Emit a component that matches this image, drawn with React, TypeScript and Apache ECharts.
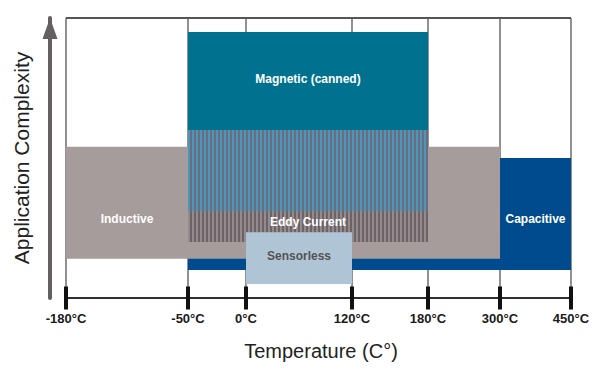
import React, { useEffect, useRef } from 'react';
import * as echarts from 'echarts';

// Schematic (non-linear) temperature axis
const TICK_TEMPS = [-180, -50, 0, 120, 180, 300, 450];
const TICK_LABELS = ['-180°C', '-50°C', '0°C', '120°C', '180°C', '300°C', '450°C'];
const TICK_SCALE = [0, 122, 180, 286, 362, 434, 505];

// Sensor technologies (drawn in this order)
const TECH_NAMES = ['Capacitive', 'Inductive', 'Magnetic (canned)', 'Eddy Current', 'Sensorless'];
const TEMP_FROM = [-50, -180, -50, -50, 0];
const TEMP_TO = [450, 300, 180, 180, 120];
const COMPLEXITY_LOW = [10, 14, 31, 20, 5];
const COMPLEXITY_HIGH = [50, 54, 95, 60, 23.5];

// Where each label sits
const LABEL_TEMP_FROM = [300, -180, -50, -50, 0];
const LABEL_TEMP_TO = [450, -50, 180, 180, 120];
const LABEL_LEVEL = [28.2, 28.2, 78.2, 27.3, 15];

const FONT = "'Liberation Sans', Arial, Helvetica, sans-serif";

const FILL: Record<string, string> = {
  Capacitive: '#004b8d',
  Inductive: '#a69c9c',
  'Magnetic (canned)': '#00728f',
  'Eddy Current': 'none',
  Sensorless: '#afc5d5',
};
const LABEL_COLOR: Record<string, string> = {
  Capacitive: '#ffffff',
  Inductive: '#ffffff',
  'Magnetic (canned)': '#ffffff',
  'Eddy Current': '#ffffff',
  Sensorless: '#575153',
};

function tempToPos(t: number): number {
  for (let i = 0; i < TICK_TEMPS.length - 1; i++) {
    const a = TICK_TEMPS[i];
    const b = TICK_TEMPS[i + 1];
    if (t >= a && t <= b) {
      return TICK_SCALE[i] + ((t - a) / (b - a)) * (TICK_SCALE[i + 1] - TICK_SCALE[i]);
    }
  }
  return t < TICK_TEMPS[0] ? TICK_SCALE[0] : TICK_SCALE[TICK_SCALE.length - 1];
}

export default function App() {
  const ref = useRef<HTMLDivElement>(null);
  useEffect(() => {
    document.body.style.margin = '0';
    const chart = echarts.init(ref.current!, null, { renderer: 'svg' });
    const magIdx = TECH_NAMES.indexOf('Magnetic (canned)');

    const blockData = TECH_NAMES.map((n, i) => [
      tempToPos(TEMP_FROM[i]),
      tempToPos(TEMP_TO[i]),
      COMPLEXITY_LOW[i],
      COMPLEXITY_HIGH[i],
    ]);

    const option: any = {
      animation: false,
      grid: { left: 66, right: 29, top: 18, bottom: 75 },
      xAxis: {
        type: 'value',
        min: 0,
        max: TICK_SCALE[TICK_SCALE.length - 1],
        name: 'Temperature (C°)',
        nameLocation: 'middle',
        nameGap: 43,
        nameTextStyle: { fontFamily: FONT, fontSize: 20, color: '#222', padding: [0, 0, 0, 5] },
        axisLine: { show: true, onZero: false, lineStyle: { color: '#222', width: 1.5 } },
        axisTick: { show: false },
        splitLine: { show: false },
        axisLabel: {
          customValues: TICK_SCALE,
          margin: 14,
          fontFamily: FONT,
          fontSize: 13,
          fontWeight: 'bold',
          color: '#1a1a1a',
          formatter: (v: number) => {
            const i = TICK_SCALE.indexOf(v);
            return i >= 0 ? TICK_LABELS[i] : '';
          },
        },
      },
      yAxis: {
        type: 'value',
        min: 0,
        max: 100,
        interval: 100,
        offset: 16,
        name: 'Application Complexity',
        nameLocation: 'middle',
        nameRotate: 90,
        nameGap: 18,
        nameTextStyle: { fontFamily: FONT, fontSize: 21, color: '#222' },
        axisLine: {
          show: true,
          onZero: false,
          symbol: ['none', 'triangle'],
          symbolSize: [15, 21],
          symbolOffset: [0, -10.5],
          lineStyle: { color: '#646062', width: 4 },
        },
        axisTick: { show: false },
        axisLabel: { show: false },
        splitLine: { show: true, lineStyle: { color: '#555', width: 2 } },
      },
      series: [
        {
          type: 'custom',
          name: 'grid',
          z: 1,
          clip: false,
          silent: true,
          data: TICK_SCALE.map((v) => [v, 0]),
          encode: { x: 0, y: 1 },
          renderItem: (params: any, api: any) => {
            const v = api.value(0);
            const top = api.coord([v, 100]);
            const bot = api.coord([v, 0]);
            return {
              type: 'group',
              children: [
                {
                  type: 'line',
                  shape: { x1: top[0], y1: top[1], x2: bot[0], y2: bot[1] },
                  style: { stroke: '#555', lineWidth: 1.3 },
                },
                {
                  type: 'rect',
                  shape: { x: bot[0] - 2, y: bot[1] - 11.5, width: 4, height: 23 },
                  style: { fill: '#111' },
                },
              ],
            };
          },
        },
        {
          type: 'custom',
          name: 'technologies',
          z: 2,
          clip: false,
          data: blockData,
          encode: { x: [0, 1], y: [2, 3] },
          renderItem: (params: any, api: any) => {
            const i = params.dataIndex;
            const name = TECH_NAMES[i];
            const p1 = api.coord([api.value(0), api.value(3)]);
            const p2 = api.coord([api.value(1), api.value(2)]);
            const x = p1[0];
            const y = p1[1];
            const w = p2[0] - p1[0];
            const h = p2[1] - p1[1];
            const lx = (api.coord([tempToPos(LABEL_TEMP_FROM[i]), 0])[0] + api.coord([tempToPos(LABEL_TEMP_TO[i]), 0])[0]) / 2;
            const ly = api.coord([0, LABEL_LEVEL[i]])[1];
            const children: any[] = [];
            if (name === 'Eddy Current') {
              const ySplit = Math.max(y, Math.min(p2[1], api.coord([0, COMPLEXITY_LOW[magIdx]])[1]));
              children.push({ type: 'rect', shape: { x, y, width: w, height: ySplit - y }, style: { fill: '#4b96ba' } });
              children.push({ type: 'rect', shape: { x, y: ySplit, width: w, height: p2[1] - ySplit }, style: { fill: '#958b8c' } });
              const period = 4;
              for (let sx = x + 2; sx < x + w; sx += period) {
                const sw = Math.min(2, x + w - sx);
                children.push({ type: 'rect', shape: { x: sx, y, width: sw, height: ySplit - y }, style: { fill: '#6a6e7c' } });
                children.push({ type: 'rect', shape: { x: sx, y: ySplit, width: sw, height: p2[1] - ySplit }, style: { fill: '#6b6366' } });
              }
            } else {
              children.push({ type: 'rect', shape: { x, y, width: w, height: h }, style: { fill: FILL[name] } });
            }
            children.push({
              type: 'text',
              style: {
                x: lx,
                y: ly,
                text: name,
                fill: LABEL_COLOR[name],
                fontFamily: FONT,
                fontSize: 12,
                fontWeight: 'bold',
                align: 'center',
                verticalAlign: 'middle',
              },
            });
            return { type: 'group', children };
          },
        },
      ],
    };
    chart.setOption(option);
    return () => chart.dispose();
  }, []);
  return <div ref={ref} style={{ width: 600, height: 373 }} />;
}
